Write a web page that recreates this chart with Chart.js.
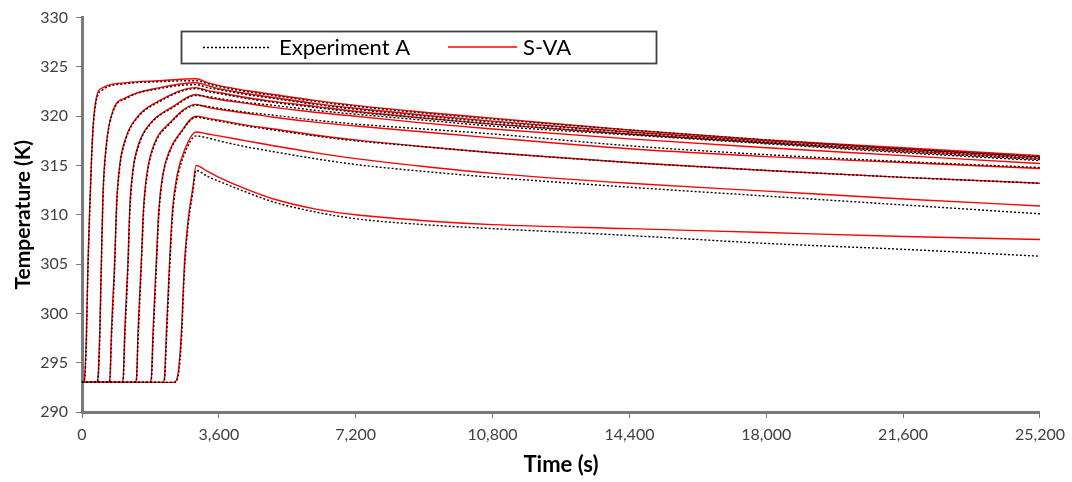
<!DOCTYPE html>
<html>
<head>
<meta charset="utf-8">
<script src="https://cdn.jsdelivr.net/npm/chart.js@4.4.1/dist/chart.umd.min.js"></script>
<style>
  body { margin: 0; background: #fff; }
</style>
</head>
<body>
<canvas id="tempChart" width="1072" height="482"></canvas>
<script>
// ---------- data ----------
const seriesNames = ["Experiment A", "S-VA"];
const xTicks = [0, 3600, 7200, 10800, 14400, 18000, 21600, 25200];

// common cooling-phase times (s), after the peak at 3000 s
const decayTimes = [3300, 3600, 4320, 5040, 6120, 7200, 9000, 10800, 14400, 18000, 21600, 25200];

// run 1
const timeC1 = [0, 40, 70, 115, 158, 200, 247, 289, 378, 552, 1167, 2000, 3000].concat(decayTimes);
const expC1 = [293, 293, 293.3, 297, 304.5, 309.8, 315.0, 318.5, 321.6, 322.7, 323.3, 323.5, 323.6, 323.3, 323.0, 322.5, 322.1, 321.5, 321.0, 320.3, 319.7, 318.6, 317.6, 316.7, 315.9];
const svaC1 = [293, 293, 293.5, 298, 305.4, 310.5, 315.5, 318.9, 321.9, 322.9, 323.4, 323.6, 323.8, 323.4, 323.1, 322.6, 322.2, 321.6, 321.1, 320.4, 319.8, 318.6, 317.6, 316.8, 316.0];

// run 2
const timeC2 = [0, 380, 420, 465, 509, 552, 641, 815, 1167, 2042, 3000].concat(decayTimes);
const expC2 = [293, 293, 293.3, 297, 304.5, 311.5, 316.9, 320.4, 321.8, 322.8, 323.2, 322.9, 322.7, 322.2, 321.8, 321.2, 320.7, 320.0, 319.4, 318.4, 317.4, 316.6, 315.8];
const svaC2 = [293, 293, 293.5, 298, 305.4, 312.2, 317.2, 320.6, 321.9, 322.9, 323.4, 323.1, 322.8, 322.3, 321.9, 321.3, 320.8, 320.1, 319.5, 318.4, 317.5, 316.7, 315.9];

// run 3
const timeC3 = [0, 700, 735, 772, 859, 910, 990, 1150, 1450, 2000, 3000].concat(decayTimes);
const expC3 = [293, 293, 293.3, 297, 304.6, 310.6, 314.7, 317.6, 319.8, 321.4, 322.8, 322.5, 322.3, 321.8, 321.4, 320.9, 320.4, 319.8, 319.2, 318.2, 317.3, 316.4, 315.6];
const svaC3 = [293, 293, 293.5, 298, 305.4, 311.2, 315.0, 317.8, 319.9, 321.5, 322.9, 322.6, 322.4, 321.9, 321.5, 321.0, 320.5, 319.8, 319.2, 318.2, 317.3, 316.5, 315.7];

// run 4
const timeC4 = [0, 1050, 1085, 1122, 1209, 1260, 1340, 1500, 1800, 2400, 3000].concat(decayTimes);
const expC4 = [293, 293, 293.3, 297, 304.6, 310.4, 314.3, 317.1, 319.2, 320.9, 322.1, 322.0, 321.8, 321.4, 321.1, 320.6, 320.2, 319.6, 319.0, 318.1, 317.2, 316.3, 315.5];
const svaC4 = [293, 293, 293.5, 298, 305.4, 311.0, 314.6, 317.3, 319.3, 321.0, 322.2, 321.9, 321.7, 321.3, 320.9, 320.4, 320.0, 319.3, 318.7, 317.7, 316.8, 316.0, 315.2];

// run 5
const timeC5 = [0, 1400, 1435, 1472, 1560, 1620, 1720, 1900, 2300, 3000].concat(decayTimes);
const expC5 = [293, 293, 293.3, 297, 304.6, 310.2, 314.2, 317.0, 319.2, 321.1, 321.0, 320.8, 320.4, 320.1, 319.6, 319.2, 318.7, 318.2, 317.0, 316.1, 315.4, 314.8];
const svaC5 = [293, 293, 293.5, 298, 305.4, 310.8, 314.5, 317.2, 319.3, 321.2, 320.9, 320.7, 320.3, 319.9, 319.4, 319.0, 318.4, 317.8, 316.7, 315.9, 315.3, 314.7];

// run 6
const timeC6 = [0, 1790, 1825, 1866, 1955, 2020, 2120, 2300, 2600, 3000].concat(decayTimes);
const expC6 = [293, 293, 293.3, 297, 304.6, 309.9, 313.7, 316.3, 318.3, 319.9, 319.7, 319.5, 319.0, 318.6, 318.0, 317.5, 316.9, 316.3, 315.3, 314.5, 313.8, 313.2];
const svaC6 = [293, 293, 293.5, 298, 305.4, 310.5, 314.0, 316.5, 318.4, 320.0, 319.8, 319.6, 319.1, 318.7, 318.1, 317.6, 316.9, 316.3, 315.3, 314.5, 313.8, 313.2];

// run 7
const timeC7 = [0, 2130, 2170, 2218, 2305, 2380, 2500, 2700, 3000].concat(decayTimes);
const expC7 = [293, 293, 293.3, 297, 304.5, 309.8, 313.5, 316.2, 318.0, 317.8, 317.5, 316.9, 316.4, 315.7, 315.1, 314.4, 313.8, 312.8, 311.9, 311.0, 310.1];
const svaC7 = [293, 293, 293.5, 298, 305.4, 310.5, 314.0, 316.6, 318.4, 318.2, 318.0, 317.5, 317.0, 316.3, 315.7, 314.9, 314.2, 313.2, 312.4, 311.6, 310.9];

// run 8
const timeC8 = [0, 2400, 2480, 2545, 2612, 2699, 2800, 2917, 3000].concat(decayTimes);
const expC8 = [293, 293, 293.1, 294, 297, 304.5, 309.2, 312.3, 314.5, 313.9, 313.4, 312.3, 311.3, 310.3, 309.6, 309.0, 308.6, 307.9, 307.1, 306.5, 305.8];
const svaC8 = [293, 293, 293.2, 294.5, 298, 305.4, 309.8, 312.8, 315.0, 314.4, 313.8, 312.6, 311.6, 310.6, 310.0, 309.4, 309.0, 308.6, 308.2, 307.8, 307.5];

const runs = [
  [timeC1, expC1, svaC1],
  [timeC2, expC2, svaC2],
  [timeC3, expC3, svaC3],
  [timeC4, expC4, svaC4],
  [timeC5, expC5, svaC5],
  [timeC6, expC6, svaC6],
  [timeC7, expC7, svaC7],
  [timeC8, expC8, svaC8]
];

// ---------- helpers ----------
const FONT = "Lato, 'Open Sans', sans-serif";
const AXIS_GREY = "#7a7a7a";

function toPoints(times, temps) {
  return times.map((t, i) => ({ x: t, y: temps[i] }));
}

const datasets = [];
runs.forEach(([times, exp, sva]) => {
  datasets.push({
    label: seriesNames[0],
    data: toPoints(times, exp),
    borderColor: "#000000",
    borderWidth: 1.4,
    borderDash: [2, 2],
    pointRadius: 0,
    cubicInterpolationMode: "monotone",
    order: 0
  });
  datasets.push({
    label: seriesNames[1],
    data: toPoints(times, sva),
    borderColor: "#ff0000",
    borderWidth: 1.4,
    pointRadius: 0,
    cubicInterpolationMode: "monotone",
    order: 1
  });
});

// legend drawn as a framed box inside the plot
const legendBox = {
  id: "legendBox",
  afterDraw(chart) {
    const ctx = chart.ctx;
    ctx.save();
    ctx.fillStyle = "#ffffff";
    ctx.fillRect(181, 31, 476, 33);
    ctx.strokeStyle = "#404040";
    ctx.lineWidth = 1.8;
    ctx.strokeRect(181.5, 31.5, 475, 32);

    ctx.lineWidth = 1.4;
    ctx.strokeStyle = "#000000";
    ctx.setLineDash([2, 2]);
    ctx.beginPath();
    ctx.moveTo(203, 47.5);
    ctx.lineTo(270, 47.5);
    ctx.stroke();

    ctx.setLineDash([]);
    ctx.strokeStyle = "#ff0000";
    ctx.lineWidth = 1.3;
    ctx.beginPath();
    ctx.moveTo(448, 47);
    ctx.lineTo(517, 47);
    ctx.stroke();

    ctx.fillStyle = "#000000";
    ctx.font = "22px " + FONT;
    ctx.textBaseline = "middle";
    ctx.fillText(seriesNames[0], 279, 48);
    ctx.fillText(seriesNames[1], 523, 48);
    ctx.restore();
  }
};

// ---------- chart ----------
new Chart(document.getElementById("tempChart"), {
  type: "line",
  data: { datasets: datasets },
  plugins: [legendBox],
  options: {
    responsive: false,
    animation: false,
    layout: { padding: { left: 0, right: 32, top: 17, bottom: 0 } },
    plugins: {
      legend: { display: false },
      tooltip: { enabled: false }
    },
    scales: {
      x: {
        type: "linear",
        min: 0,
        max: 25200,
        afterBuildTicks: (axis) => { axis.ticks = xTicks.map(v => ({ value: v })); },
        afterFit: (axis) => { axis.height = 70; },
        ticks: {
          color: "#404040",
          font: { family: FONT, size: 16 },
          padding: 7,
          maxRotation: 0,
          callback: (v) => v.toLocaleString("en-US")
        },
        grid: { drawOnChartArea: false, drawTicks: true, tickLength: 6, lineWidth: 1, color: AXIS_GREY },
        border: { display: true, color: AXIS_GREY, width: 3 },
        title: {
          display: true,
          text: "Time (s)",
          color: "#000000",
          font: { family: FONT, size: 22, weight: "bold" },
          padding: { bottom: 4 }
        }
      },
      y: {
        min: 290,
        max: 330,
        afterFit: (axis) => { axis.width = 82; },
        ticks: {
          stepSize: 5,
          color: "#404040",
          font: { family: FONT, size: 16 },
          padding: 8
        },
        grid: { drawOnChartArea: false, drawTicks: true, tickLength: 6, lineWidth: 1, color: AXIS_GREY },
        border: { display: true, color: AXIS_GREY, width: 3 },
        title: {
          display: true,
          text: "Temperature (K)",
          color: "#000000",
          font: { family: FONT, size: 21, weight: "bold" },
          padding: { top: 11 }
        }
      }
    }
  }
});
</script>
</body>
</html>
